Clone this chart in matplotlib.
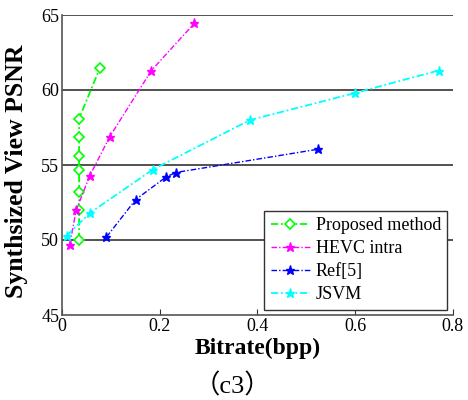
import matplotlib
matplotlib.use("Agg")
import matplotlib.pyplot as plt

plt.rcParams['font.family'] = ['Liberation Serif', 'Noto Sans CJK SC', 'DejaVu Sans']

# Rate-distortion points for the synthesized view
proposed_rate = [0.035, 0.035, 0.035, 0.035, 0.035, 0.035, 0.035, 0.078]
proposed_psnr = [50.0, 52.0, 53.2, 54.7, 55.6, 56.9, 58.1, 61.5]

hevc_rate = [0.016, 0.029, 0.057, 0.098, 0.183, 0.271]
hevc_psnr = [49.7, 52.0, 54.3, 56.9, 61.3, 64.45]

ref5_rate = [0.091, 0.151, 0.213, 0.233, 0.524]
ref5_psnr = [50.2, 52.7, 54.2, 54.5, 56.05]

jsvm_rate = [0.010, 0.057, 0.186, 0.385, 0.600, 0.771]
jsvm_psnr = [50.3, 51.8, 54.7, 58.0, 59.8, 61.3]

fig = plt.figure(figsize=(4.68, 4.0), dpi=100)
ax = fig.add_axes([0.1325, 0.2125, 0.835, 0.75])

dash = (0, (4, 1.5, 1, 1.5))
ax.plot(proposed_rate, proposed_psnr, linestyle=dash, color='#00ff00', lw=1.3,
        marker='D', ms=5.5, mfc='white', mec='#00ff00', mew=1.2, label='Proposed method')
ax.plot(hevc_rate, hevc_psnr, linestyle=dash, color='#ff00ff', lw=1.0,
        marker='*', ms=6.5, label='HEVC intra')
ax.plot(ref5_rate, ref5_psnr, linestyle=dash, color='#0000ff', lw=1.0,
        marker='*', ms=6.5, label='Ref[5]')
ax.plot(jsvm_rate, jsvm_psnr, linestyle=dash, color='#00ffff', lw=1.3,
        marker='*', ms=6.5, label='JSVM')

ax.set_xlim(0, 0.8)
ax.set_ylim(45, 65)
ax.set_xticks([0, 0.2, 0.4, 0.6, 0.8])
ax.set_xticklabels(['0', '0.2', '0.4', '0.6', '0.8'])
ax.set_yticks([45, 50, 55, 60, 65])

for y in [50, 55, 60, 65]:
    ax.axhline(y, color='#333333', lw=1.2, zorder=0)

ax.spines['top'].set_visible(False)
ax.spines['right'].set_visible(False)
for s in ['left', 'bottom']:
    ax.spines[s].set_color('#555555')
    ax.spines[s].set_linewidth(1.2)

ax.tick_params(axis='both', direction='in', labelsize=13, length=4, color='#333333', pad=2)
ax.tick_params(axis='y', length=0)

ax.set_xlabel('Bitrate(bpp)', fontsize=17, fontweight='bold', labelpad=2)
ax.set_ylabel('Synthsized View PSNR', fontsize=18.5, fontweight='bold')
ax.yaxis.set_label_coords(-0.088, 0.48)

leg = ax.legend(loc='lower right', fontsize=13, frameon=True, fancybox=False,
                edgecolor='#333333', framealpha=1, borderpad=0.35, labelspacing=0.33,
                handlelength=2.2, handletextpad=0.3, borderaxespad=0.3)
leg.get_frame().set_linewidth(1.0)

fig.text(0.496, 0.035, '（c3）', ha='center', va='center', fontsize=19)

fig.savefig('out.png', dpi=100)
